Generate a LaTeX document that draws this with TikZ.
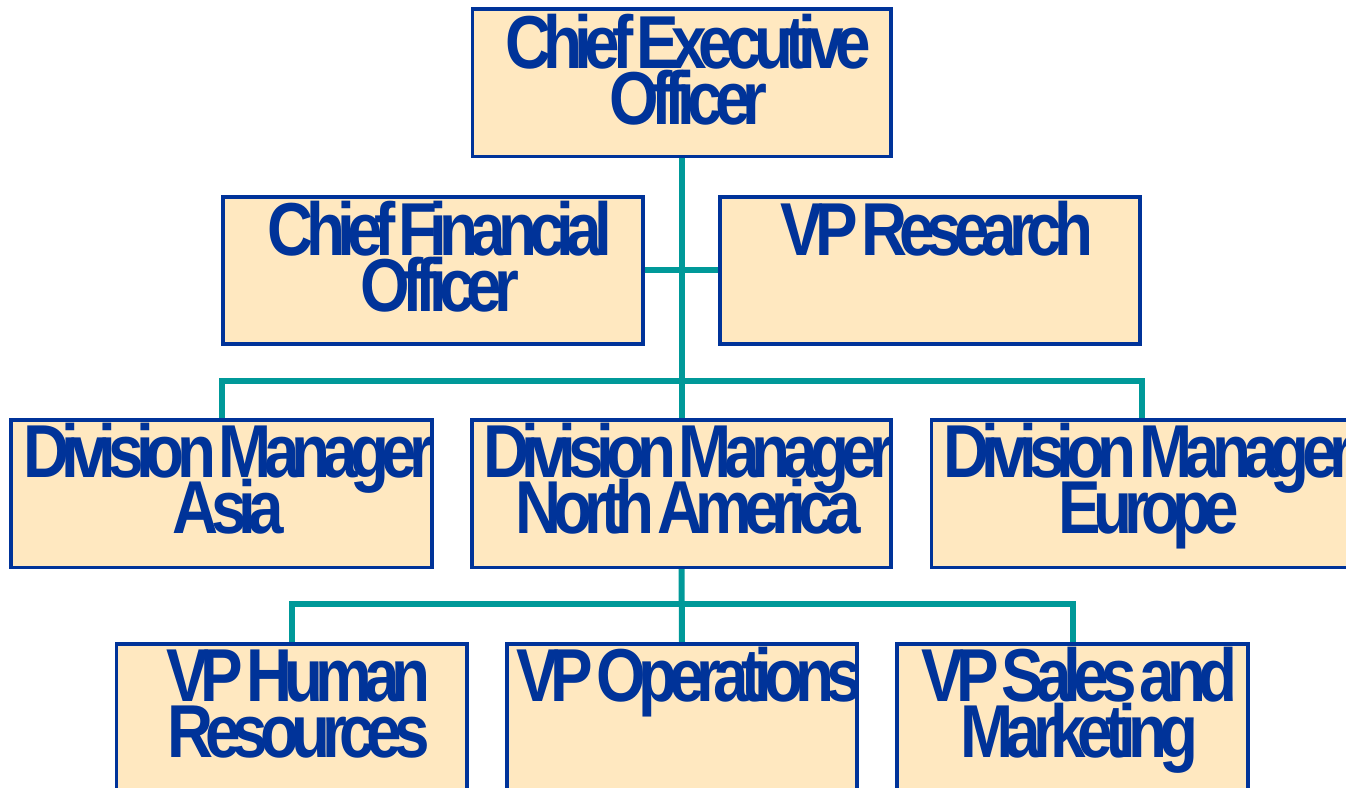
\documentclass[tikz,border=0pt]{standalone}
\usepackage{fontspec}
\newfontfamily\orgfont{Liberation Sans}[FakeStretch=0.85, LetterSpace=-10.5, WordSpace=0.3]
\usetikzlibrary{calc}
\definecolor{boxfill}{RGB}{255,232,192}
\definecolor{boxline}{RGB}{0,51,153}
\definecolor{conncol}{RGB}{0,153,153}
\tikzset{
  box/.style={draw=boxline, line width=2.5pt, fill=boxfill, rectangle, inner sep=0pt, anchor=north},
  lbl/.style={text=boxline, inner sep=0pt, anchor=base, font=\orgfont\bfseries\fontsize{75}{56}\selectfont},
  conn/.style={draw=conncol, line width=6pt}
}
\begin{document}
\begin{tikzpicture}[x=1pt,y=-1pt]
\useasboundingbox (0,0) rectangle (1346,787);
\clip (0,0) rectangle (1346,787);
% boxes
\node[box, minimum width=417pt, minimum height=146pt] (ceo) at (681.5,8.5) {};
\node[box, minimum width=419pt, minimum height=146pt] (cfo) at (433,196) {};
\node[box, minimum width=419pt, minimum height=146pt] (vpr) at (930,196) {};
\node[box, minimum width=420pt, minimum height=146pt] (asia) at (221.5,419.5) {};
\node[box, minimum width=418pt, minimum height=146pt] (na) at (681.5,419.5) {};
\node[box, minimum width=420pt, minimum height=146pt] (eur) at (1142,419.5) {};
\node[box, minimum width=349pt, minimum height=160pt] (hr) at (291.5,643) {};
\node[box, minimum width=349pt, minimum height=160pt] (ops) at (682,643) {};
\node[box, minimum width=350pt, minimum height=160pt] (sales) at (1072.5,643) {};
% connectors
\draw[conn] (ceo.south) -- (na.north);
\draw[conn] (cfo.east) -- (vpr.west);
\draw[conn] (asia.north) -- ++(0,-39) -| (eur.north);
\draw[conn] (na.south) -- (ops.north);
\draw[conn] (hr.north) -- ++(0,-39) -| (sales.north);
% box borders on top of connector ends
\foreach \b in {ceo,cfo,vpr,asia,na,eur,hr,ops,sales}{
  \draw[boxline, line width=2.5pt] (\b.north west) rectangle (\b.south east);
}
% labels
\node[lbl] (ceo1) at ($(ceo.north)+(7,60)$) {Chief Executive};
\node[lbl] (ceo2) at ($(ceo.north)+(7,116)$) {Officer};
\node[lbl] (cfo1) at ($(cfo.north)+(7,59)$) {Chief Financial};
\node[lbl] (cfo2) at ($(cfo.north)+(7,115)$) {Officer};
\node[lbl] (vpr1) at ($(vpr.north)+(7,59)$) {VP Research};
\node[lbl] (asia1) at ($(asia.north)+(7,58)$) {Division Manager};
\node[lbl] (asia2) at ($(asia.north)+(7,114)$) {Asia};
\node[lbl] (na1) at ($(na.north)+(7,58)$) {Division Manager};
\node[lbl] (na2) at ($(na.north)+(7,114)$) {North America};
\node[lbl] (eur1) at ($(eur.north)+(7,58)$) {Division Manager};
\node[lbl] (eur2) at ($(eur.north)+(7,114)$) {Europe};
\node[lbl] (hr1) at ($(hr.north)+(7,58)$) {VP Human};
\node[lbl] (hr2) at ($(hr.north)+(7,114)$) {Resources};
\node[lbl] (ops1) at ($(ops.north)+(7,58)$) {VP Operations};
\node[lbl] (sales1) at ($(sales.north)+(7,58)$) {VP Sales and};
\node[lbl] (sales2) at ($(sales.north)+(7,114)$) {Marketing};
\end{tikzpicture}
\end{document}
